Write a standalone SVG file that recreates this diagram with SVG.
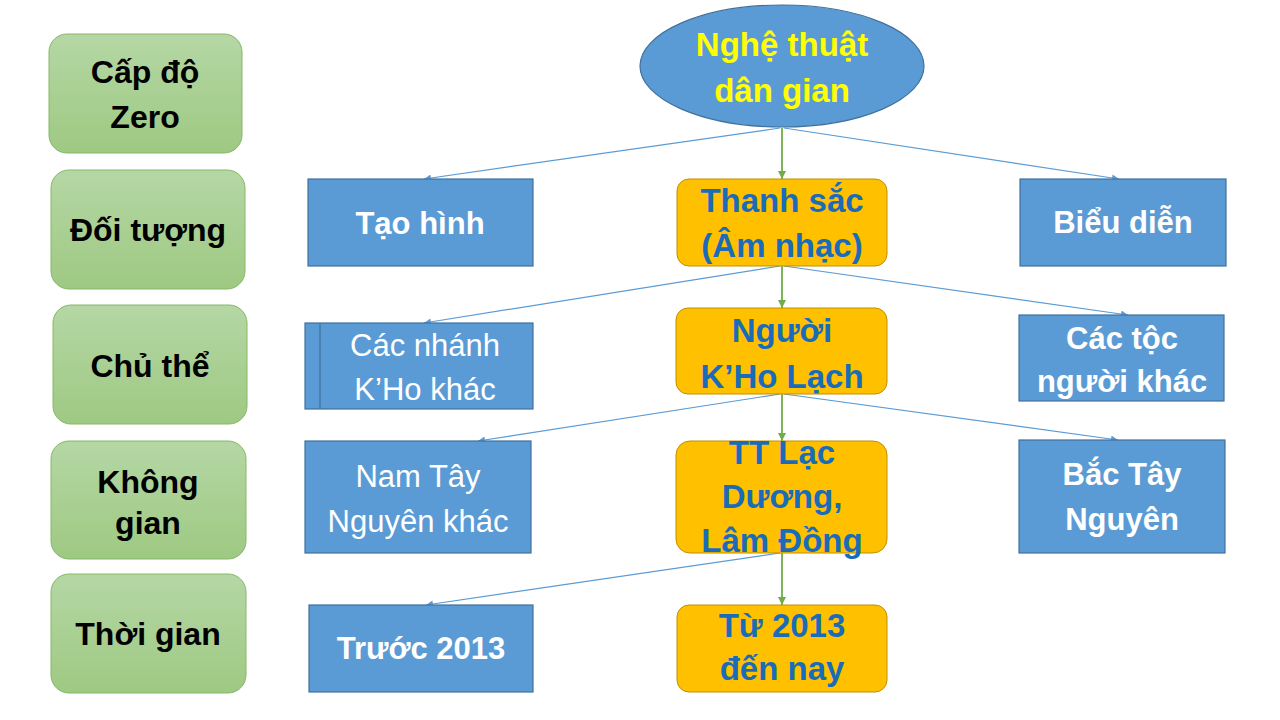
<svg xmlns="http://www.w3.org/2000/svg" width="1280" height="720" viewBox="0 0 1280 720">
<defs>
<linearGradient id="gg" x1="0" y1="0" x2="0" y2="1">
<stop offset="0" stop-color="#b5d7a5"/>
<stop offset="1" stop-color="#9ec982"/>
</linearGradient>
<marker id="ab" viewBox="0 0 10 10" refX="10" refY="5" markerWidth="9" markerHeight="7" markerUnits="userSpaceOnUse" orient="auto">
<path d="M0,0 L10,5 L0,10 z" fill="#5b9bd5"/>
</marker>
<marker id="ag" viewBox="0 0 10 10" refX="10" refY="5" markerWidth="9" markerHeight="8" markerUnits="userSpaceOnUse" orient="auto">
<path d="M0,0 L10,5 L0,10 z" fill="#70ad47"/>
</marker>
</defs>
<style>
.lvl{fill:url(#gg);stroke:#85b866;stroke-width:1}
.blue{fill:#5b9bd5;stroke:#41719c;stroke-width:1.2}
.org{fill:#ffc000;stroke:#bf9000;stroke-width:1}
text{font-family:"Liberation Sans",Arial,sans-serif;text-anchor:middle}
.tl{font-weight:bold;font-size:32px;fill:#000}
.tw{font-weight:bold;font-size:31px;fill:#fff}
.twr{font-size:31px;fill:#fff}
.tb{font-weight:bold;font-size:33px;fill:#1a6cb8}
.ty{font-weight:bold;font-size:33px;fill:#ffff00}
.cb{stroke:#5b9bd5;stroke-width:1.2;fill:none;marker-end:url(#ab)}
.cg{stroke:#70ad47;stroke-width:1.8;fill:none;marker-end:url(#ag)}
</style>
<rect width="1280" height="720" fill="#fff"/>

<g id="connectors">
<line class="cb" x1="780" y1="128" x2="424" y2="179"/>
<line class="cg" x1="782" y1="128" x2="782" y2="179"/>
<line class="cb" x1="784" y1="128" x2="1119" y2="179"/>
<line class="cb" x1="780" y1="266" x2="424" y2="323"/>
<line class="cg" x1="782" y1="266" x2="782" y2="308"/>
<line class="cb" x1="784" y1="266" x2="1128" y2="315"/>
<line class="cb" x1="780" y1="394" x2="478" y2="441"/>
<line class="cg" x1="782" y1="394" x2="782" y2="441"/>
<line class="cb" x1="784" y1="394" x2="1118" y2="440"/>
<line class="cb" x1="780" y1="553" x2="426" y2="605"/>
<line class="cg" x1="782" y1="553" x2="782" y2="605"/>
</g>

<g id="lvl-zero"><rect class="lvl" x="49" y="34" width="193" height="119" rx="18"/>
<text class="tl" x="145" y="83">Cấp độ</text><text class="tl" x="145" y="128">Zero</text></g>
<g id="lvl-doituong"><rect class="lvl" x="51" y="170" width="194" height="119" rx="18"/>
<text class="tl" x="148" y="241">Đối tượng</text></g>
<g id="lvl-chuthe"><rect class="lvl" x="53" y="305" width="194" height="119" rx="18"/>
<text class="tl" x="150" y="377">Chủ thể</text></g>
<g id="lvl-khonggian"><rect class="lvl" x="51" y="441" width="195" height="118" rx="18"/>
<text class="tl" x="148" y="493">Không</text><text class="tl" x="148" y="534">gian</text></g>
<g id="lvl-thoigian"><rect class="lvl" x="51" y="574" width="195" height="119" rx="18"/>
<text class="tl" x="148" y="645">Thời gian</text></g>

<g id="root"><ellipse cx="782" cy="66" rx="142" ry="61" fill="#5b9bd5" stroke="#41719c" stroke-width="1.2"/>
<text class="ty" x="782" y="56">Nghệ thuật</text><text class="ty" x="782" y="102">dân gian</text></g>

<g id="taohinh"><rect class="blue" x="308" y="179" width="225" height="87"/>
<text class="tw" x="420" y="234">Tạo hình</text></g>
<g id="thanhsac"><rect class="org" x="677" y="179" width="210" height="87" rx="12"/>
<text class="tb" x="782" y="212">Thanh sắc</text><text class="tb" x="782" y="257">(Âm nhạc)</text></g>
<g id="bieudien"><rect class="blue" x="1020" y="179" width="206" height="87"/>
<text class="tw" x="1123" y="233">Biểu diễn</text></g>

<g id="cacnhanh"><rect class="blue" x="305" y="323" width="228" height="86"/>
<line x1="320" y1="323" x2="320" y2="409" stroke="#41719c" stroke-width="1.2"/>
<text class="twr" x="425" y="356">Các nhánh</text><text class="twr" x="425" y="400">K’Ho khác</text></g>
<g id="nguoikho"><rect class="org" x="676" y="308" width="211" height="86" rx="12"/>
<text class="tb" x="782" y="342">Người</text><text class="tb" x="782" y="388">K’Ho Lạch</text></g>
<g id="cactoc"><rect class="blue" x="1019" y="315" width="205" height="86"/>
<text class="tw" x="1122" y="349">Các tộc</text><text class="tw" x="1122" y="392">người khác</text></g>

<g id="namtay"><rect class="blue" x="305" y="441" width="226" height="112"/>
<text class="twr" x="418" y="487">Nam Tây</text><text class="twr" x="418" y="532">Nguyên khác</text></g>
<g id="ttlac"><rect class="org" x="676" y="441" width="211" height="112" rx="14"/>
<text class="tb" x="782" y="464">TT Lạc</text><text class="tb" x="782" y="508">Dương,</text><text class="tb" x="782" y="552">Lâm Đồng</text></g>
<g id="bactay"><rect class="blue" x="1019" y="440" width="206" height="113"/>
<text class="tw" x="1122" y="485">Bắc Tây</text><text class="tw" x="1122" y="530">Nguyên</text></g>

<g id="truoc2013"><rect class="blue" x="309" y="605" width="224" height="87"/>
<text class="tw" x="421" y="659">Trước 2013</text></g>
<g id="tu2013"><rect class="org" x="677" y="605" width="210" height="87" rx="12"/>
<text class="tb" x="782" y="637">Từ 2013</text><text class="tb" x="782" y="680">đến nay</text></g>
</svg>
